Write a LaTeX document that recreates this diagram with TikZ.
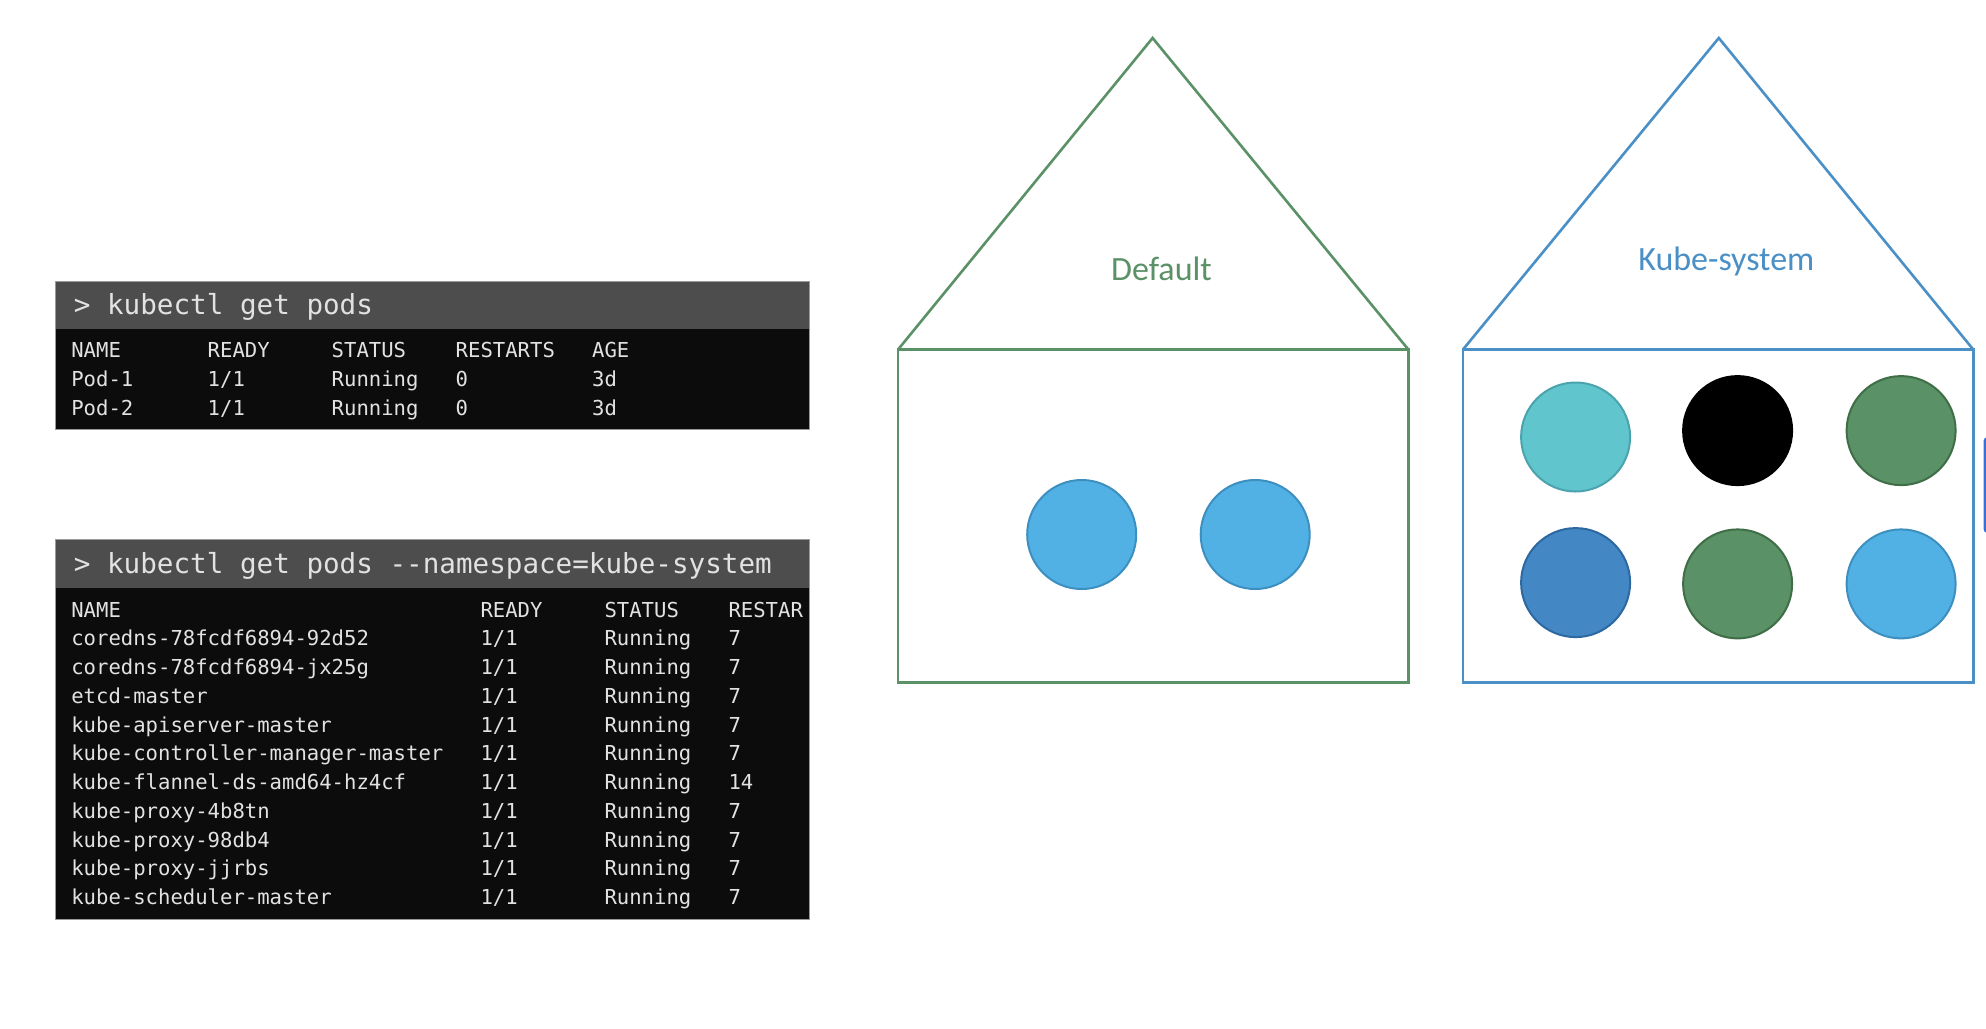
\documentclass[tikz,border=0pt]{standalone}
\usepackage{fontspec}
\newfontfamily\termfont{DejaVu Sans Mono}
\newfontfamily\nsfont{Carlito}
\definecolor{termbg}{HTML}{0C0C0C}
\definecolor{termhead}{HTML}{4D4D4D}
\definecolor{termtext}{HTML}{E2E2E2}
\definecolor{termedge}{HTML}{9A9A9A}
\definecolor{hgreen}{HTML}{5A9166}
\definecolor{hblue}{HTML}{4A90C6}
\definecolor{podlight}{HTML}{52B1E4}
\definecolor{podlightedge}{HTML}{3D8FBF}
\definecolor{podcyan}{HTML}{60C5CD}
\definecolor{podcyanedge}{HTML}{4AA3AD}
\definecolor{podgreen}{HTML}{5A9166}
\definecolor{podgreenedge}{HTML}{3F6E47}
\definecolor{poddark}{HTML}{4387C4}
\definecolor{poddarkedge}{HTML}{2E68A0}
\definecolor{markblue}{HTML}{3A6FD4}
\begin{document}
\begin{tikzpicture}[x=0.5pt,y=-0.5pt,
  cell/.style={anchor=base west,inner sep=0pt,font=\termfont\fontsize{10.3pt}{12pt}\selectfont,text=termtext},
  cmd/.style={anchor=base west,inner sep=0pt,font=\termfont\fontsize{13.8pt}{16pt}\selectfont,text=termtext},
  pod/.style={circle,minimum size=54.5pt,inner sep=0pt,line width=1pt},
  house/.style={line width=1.3pt,line join=miter},
  nslabel/.style={inner sep=0pt,font=\nsfont\fontsize{17pt}{20pt}\selectfont}]
\useasboundingbox (0,0) rectangle (1986,1028);
\fill[white] (0,0) rectangle (1986,1028);

% ---------- terminal 1
\fill[termbg] (55.7,281.2) rectangle (809.3,429.4);
\fill[termhead] (55.7,281.2) rectangle (809.3,329.3);
\draw[termedge,line width=0.4pt] (55.7,281.2) rectangle (809.3,429.4);
\node[cmd] (cmd1) at (73.5,314) {> kubectl get pods};
\foreach \t [count=\i from 0] in {NAME,Pod-1,Pod-2}
  \node[cell] (ta\i) at (70.9,357.5+29.1*\i) {\t};
\foreach \t [count=\i from 0] in {READY,1/1,1/1}
  \node[cell] (tb\i) at (207.3,357.5+29.1*\i) {\t};
\foreach \t [count=\i from 0] in {STATUS,Running,Running}
  \node[cell] (tc\i) at (331.3,357.5+29.1*\i) {\t};
\foreach \t [count=\i from 0] in {RESTARTS,0,0}
  \node[cell] (td\i) at (455.3,357.5+29.1*\i) {\t};
\foreach \t [count=\i from 0] in {AGE,3d,3d}
  \node[cell] (te\i) at (591.7,357.5+29.1*\i) {\t};

% ---------- terminal 2
\fill[termbg] (55.7,539.6) rectangle (809.3,919.5);
\fill[termhead] (55.7,539.6) rectangle (809.3,587.7);
\draw[termedge,line width=0.4pt] (55.7,539.6) rectangle (809.3,919.5);
\node[cmd] (cmd2) at (73.5,573.5) {> kubectl get pods --namespace=kube-system};
\foreach \t [count=\i from 0] in {NAME,coredns-78fcdf6894-92d52,coredns-78fcdf6894-jx25g,etcd-master,kube-apiserver-master,kube-controller-manager-master,kube-flannel-ds-amd64-hz4cf,kube-proxy-4b8tn,kube-proxy-98db4,kube-proxy-jjrbs,kube-scheduler-master}
  \node[cell] (ua\i) at (70.9,617+28.75*\i) {\t};
\foreach \t [count=\i from 0] in {READY,1/1,1/1,1/1,1/1,1/1,1/1,1/1,1/1,1/1,1/1}
  \node[cell] (ub\i) at (480.1,617+28.75*\i) {\t};
\foreach \t [count=\i from 0] in {STATUS,Running,Running,Running,Running,Running,Running,Running,Running,Running,Running}
  \node[cell] (uc\i) at (604.1,617+28.75*\i) {\t};
\foreach \t [count=\i from 0] in {RESTAR,7,7,7,7,7,14,7,7,7,7}
  \node[cell] (ud\i) at (728.1,617+28.75*\i) {\t};

% ---------- Default house
\draw[house,hgreen] (898,349.6) -- (1152.6,38) -- (1408.4,349.6);
\draw[house,hgreen] (898,349.6) rectangle (1408.4,682.7);
\node[nslabel,text=hgreen] (deflabel) at (1161.5,269) {Default};
\node[pod,fill=podlight,draw=podlightedge] (d1) at (1081.7,534.5) {};
\node[pod,fill=podlight,draw=podlightedge] (d2) at (1255.2,534.5) {};

% ---------- Kube-system house
\draw[house,hblue] (1462.9,349.6) -- (1718.8,38) -- (1973.3,349.6);
\draw[house,hblue] (1462.9,349.6) rectangle (1973.3,682.7);
\node[nslabel,text=hblue] (kslabel) at (1726.3,261) {Kube-system};
\node[pod,fill=podcyan,draw=podcyanedge] (k1) at (1575.6,437) {};
\node[pod,fill=black,draw=black] (k2) at (1737.6,430.6) {};
\node[pod,fill=podgreen,draw=podgreenedge] (k3) at (1901.1,430.6) {};
\node[pod,fill=poddark,draw=poddarkedge] (k4) at (1575.6,582.6) {};
\node[pod,fill=podgreen,draw=podgreenedge] (k5) at (1737.6,583.9) {};
\node[pod,fill=podlight,draw=podlightedge] (k6) at (1901.1,583.9) {};

% ---------- cut-off mark at right edge
\begin{scope}
  \clip (0,0) rectangle (1986,1028);
  \fill[markblue,rounded corners=2pt] (1983.5,437) rectangle (2000,533);
\end{scope}
\end{tikzpicture}
\end{document}
